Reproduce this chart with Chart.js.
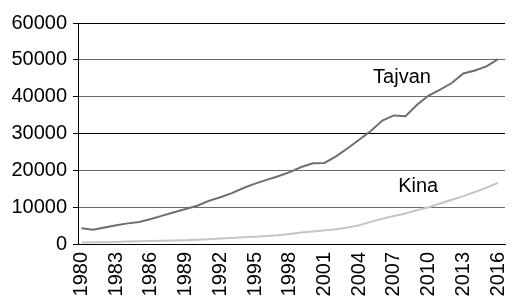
<!DOCTYPE html>
<html>
<head>
<meta charset="utf-8">
<script src="https://cdn.jsdelivr.net/npm/chart.js@4"></script>
<style>
  html, body { margin: 0; padding: 0; background: #fff; }
  #wrap { width: 514px; height: 299px; }
</style>
</head>
<body>
<div id="wrap"><canvas id="c" width="514" height="299"></canvas></div>
<script>
const years = [];
for (let y = 1980; y <= 2016; y++) years.push(y);

const tickYears = [1980, 1983, 1986, 1989, 1992, 1995, 1998, 2001, 2004, 2007, 2010, 2013, 2016];
const yTicks = [0, 10000, 20000, 30000, 40000, 50000, 60000];

const tajvan = [4270, 3850, 4500, 5100, 5600, 6000, 6800, 7700, 8600, 9500,
                10400, 11700, 12700, 13800, 15200, 16400, 17400, 18400, 19500, 20900,
                21900, 22000, 23800, 26000, 28300, 30700, 33500, 34900, 34700, 37800,
                40300, 41900, 43700, 46300, 47100, 48200, 50200];

const kina = [400, 450, 500, 550, 650, 750, 800, 850, 950, 1050,
              1150, 1300, 1500, 1650, 1800, 2000, 2200, 2400, 2700, 3100,
              3400, 3700, 4000, 4450, 5100, 6000, 6850, 7600, 8300, 9200,
              10000, 11000, 12000, 13000, 14100, 15300, 16600];

const seriesLabels = [
  { text: 'Tajvan', x: 2007.7, y: 43750 },
  { text: 'Kina', x: 2009.1, y: 14130 }
];

const FONT = "'Liberation Sans', Arial, sans-serif";

const textLabels = {
  id: 'textLabels',
  afterDatasetsDraw(chart) {
    const ctx = chart.ctx;
    const xs = chart.scales.x, ys = chart.scales.y;
    ctx.save();
    ctx.font = '20px ' + FONT;
    ctx.fillStyle = '#000';
    ctx.textAlign = 'center';
    ctx.textBaseline = 'alphabetic';
    seriesLabels.forEach(l => {
      ctx.fillText(l.text, xs.getPixelForValue(l.x), ys.getPixelForValue(l.y));
    });
    ctx.restore();
  }
};

new Chart(document.getElementById('c'), {
  type: 'line',
  data: {
    datasets: [
      {
        label: 'Tajvan',
        data: years.map((y, i) => ({ x: y, y: tajvan[i] })),
        borderColor: '#6e6e6e',
        borderWidth: 2,
        pointRadius: 0,
        tension: 0,
        fill: false
      },
      {
        label: 'Kina',
        data: years.map((y, i) => ({ x: y, y: kina[i] })),
        borderColor: '#c4c4c4',
        borderWidth: 2,
        pointRadius: 0,
        tension: 0,
        fill: false
      }
    ]
  },
  options: {
    responsive: false,
    animation: false,
    layout: { padding: { top: 23, right: 9, left: 0, bottom: 0 } },
    plugins: {
      legend: { display: false },
      tooltip: { enabled: false }
    },
    scales: {
      x: {
        type: 'linear',
        min: 1979.7,
        max: 2016.6,
        afterBuildTicks(axis) { axis.ticks = tickYears.map(v => ({ value: v })); },
        afterFit(axis) { axis.height = 55; axis.paddingLeft = 0; axis.paddingRight = 0; },
        grid: { display: false, drawTicks: false },
        border: { display: true, color: '#000', width: 1 },
        ticks: {
          autoSkip: false,
          minRotation: 90,
          maxRotation: 90,
          padding: 8,
          color: '#000',
          font: { family: FONT, size: 20 },
          callback: v => String(v)
        }
      },
      y: {
        min: 0,
        max: 60000,
        afterBuildTicks(axis) { axis.ticks = yTicks.map(v => ({ value: v })); },
        afterFit(axis) { axis.width = 78; axis.paddingTop = 0; axis.paddingBottom = 0; },
        grid: {
          color: ctx => (ctx.tick && (ctx.tick.value === 60000 || ctx.tick.value === 30000 || ctx.tick.value === 0)) ? '#000' : '#6a6a6a',
          tickColor: '#000',
          tickLength: 5,
          lineWidth: 1
        },
        border: { display: true, color: '#000', width: 1 },
        ticks: {
          padding: 6,
          color: '#000',
          font: { family: FONT, size: 20 },
          callback: v => String(v)
        }
      }
    }
  },
  plugins: [textLabels]
});
</script>
</body>
</html>
